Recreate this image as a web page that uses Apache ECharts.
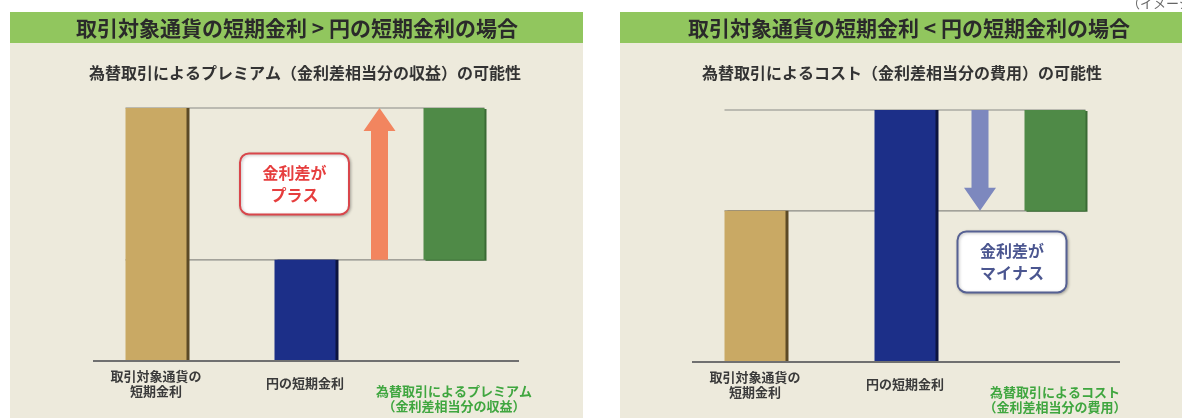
<!DOCTYPE html>
<html><head><meta charset="utf-8">
<script src="https://cdn.jsdelivr.net/npm/echarts@6/dist/echarts.min.js"></script>
<style>html,body{margin:0;padding:0;background:#fff;} #c{width:1182px;height:418px;}</style>
</head><body><div id="c"></div>
<script>
// ---------- data ----------
const panelTitles = ['取引対象通貨の短期金利 > 円の短期金利の場合', '取引対象通貨の短期金利 < 円の短期金利の場合'];
const panelSubtitles = ['為替取引によるプレミアム（金利差相当分の収益）の可能性', '為替取引によるコスト（金利差相当分の費用）の可能性'];
const leftCategories = ['取引対象通貨の\n短期金利', '円の短期金利', '為替取引によるプレミアム\n（金利差相当分の収益）'];
const rightCategories = ['取引対象通貨の\n短期金利', '円の短期金利', '為替取引によるコスト\n（金利差相当分の費用）'];
const leftRates = [5, 2];   // [取引対象通貨の短期金利, 円の短期金利]
const rightRates = [3, 5];
const calloutTexts = ['金利差が\nプラス', '金利差が\nマイナス'];
const imageNote = '（イメージ図）';

// ---------- styles / layout ----------
const FONT = '"Noto Sans CJK JP", "Noto Sans", sans-serif';
const BAR_W = 61;
const C_TAN = '#C9A964', C_BLUE = '#1C2F88', C_GREEN = '#4F8A47';
const C_BG = '#EDEADC', C_HEAD = '#91C65E';
const panels = [
  { x: 10, w: 573, grid: { left: 81.5, width: 447, top: 108, bottom: 57 },
    cats: leftCategories, rates: leftRates, callout: calloutTexts[0],
    arrowColor: '#F2855F', boxStroke: '#D9464B', boxText: '#E63E3E', calloutDx: -85, calloutDy: 0 },
  { x: 620, w: 562, grid: { left: 680, width: 450, top: 110, bottom: 56 },
    cats: rightCategories, rates: rightRates, callout: calloutTexts[1],
    arrowColor: '#7D88BE', boxStroke: '#566193', boxText: '#4B5690', calloutDx: 32, calloutDy: 101.5 }
];

const chart = echarts.init(document.getElementById('c'), null, { renderer: 'canvas' });

const graphic = [];
panels.forEach((p, i) => {
  graphic.push({ type: 'rect', z: -10, shape: { x: p.x, y: 12, width: p.w, height: 406 }, style: { fill: C_BG } });
  graphic.push({ type: 'rect', z: -9, shape: { x: p.x, y: 12, width: p.w, height: 31 }, style: { fill: C_HEAD } });
  graphic.push({ type: 'text', z: -8, x: (i === 0 ? 297 : 909), y: 28,
    style: { text: panelTitles[i], fill: '#2a2a2a', font: 'bold 21px ' + FONT, align: 'center', verticalAlign: 'middle' } });
  graphic.push({ type: 'text', z: -8, x: (i === 0 ? 305 : 902), y: 73,
    style: { text: panelSubtitles[i], fill: '#333', font: 'bold 16px ' + FONT, align: 'center', verticalAlign: 'middle' } });
});
graphic.push({ type: 'text', z: -8, x: 1127, y: 3,
  style: { text: imageNote, fill: '#666', font: '13px ' + FONT, align: 'left', verticalAlign: 'middle' } });

const grids = [], xAxes = [], yAxes = [], series = [];
panels.forEach((p, i) => {
  const hi = Math.max(...p.rates), lo = Math.min(...p.rates);
  grids.push(Object.assign({ containLabel: false }, p.grid));
  xAxes.push({
    type: 'category', gridIndex: i,
    data: p.cats.map((c, k) => k === 2 ? { value: c, textStyle: { color: '#3FA63F' } } : c),
    axisLine: { show: false }, axisTick: { show: false }, splitLine: { show: false },
    axisLabel: { interval: 0, margin: 22.5, verticalAlign: 'middle', lineHeight: 15,
      fontSize: 13, fontWeight: 'bold', color: '#3a3a3a', fontFamily: FONT }
  });
  yAxes.push({ type: 'value', gridIndex: i, min: 0, max: 5, show: false, splitLine: { show: false } });

  // connector lines (beneath bars)
  series.push({
    type: 'custom', xAxisIndex: i, yAxisIndex: i, z: 1, silent: true, data: [0],
    renderItem: function (params, api) {
      const x0 = api.coord([0, 0])[0], x2 = api.coord([2, 0])[0];
      const yHi = api.coord([0, hi])[1], yLo = api.coord([0, lo])[1];
      const hw = BAR_W / 2;
      return { type: 'group', children: [
        { type: 'line', shape: { x1: x0 - hw, y1: yHi, x2: x2 + hw, y2: yHi }, style: { stroke: '#8a8a85', lineWidth: 1.2 } },
        { type: 'line', shape: { x1: x0 - hw, y1: yLo, x2: x2 + hw, y2: yLo }, style: { stroke: '#8a8a85', lineWidth: 1.2 } }
      ] };
    }
  });
  // floating base for the difference bar
  series.push({
    type: 'bar', xAxisIndex: i, yAxisIndex: i, stack: 's' + i, barWidth: BAR_W, silent: true, z: 2,
    itemStyle: { color: 'rgba(0,0,0,0)' },
    data: [0, 0, lo]
  });
  series.push({
    type: 'bar', xAxisIndex: i, yAxisIndex: i, stack: 's' + i, barWidth: BAR_W, silent: true, z: 3,
    data: [
      { value: p.rates[0], itemStyle: { color: C_TAN, shadowColor: '#5C4A26', shadowOffsetX: 3, shadowBlur: 0 } },
      { value: p.rates[1], itemStyle: { color: C_BLUE, shadowColor: '#0C1440', shadowOffsetX: 3, shadowBlur: 0 } },
      { value: hi - lo, itemStyle: { color: C_GREEN, shadowColor: '#3A6A34', shadowOffsetX: 2, shadowOffsetY: 1, shadowBlur: 0 } }
    ]
  });
  // arrow, baseline, callout
  series.push({
    type: 'custom', xAxisIndex: i, yAxisIndex: i, z: 5, silent: true, data: [0],
    renderItem: function (params, api) {
      const x0 = api.coord([0, 0])[0], x1 = api.coord([1, 0])[0], x2 = api.coord([2, 0])[0];
      const yBase = api.coord([0, 0])[1];
      const yHi = api.coord([0, hi])[1], yLo = api.coord([0, lo])[1];
      const ax = (x1 + x2) / 2;
      const up = p.rates[0] > p.rates[1];
      const tipY = up ? yHi : yLo, tailY = up ? yLo : yHi;
      const dir = up ? 1 : -1;
      const headL = 23, headW = 16, shaftW = 8.5;
      const pts = [
        [ax - shaftW, tailY], [ax - shaftW, tipY + dir * headL], [ax - headW, tipY + dir * headL],
        [ax, tipY], [ax + headW, tipY + dir * headL], [ax + shaftW, tipY + dir * headL], [ax + shaftW, tailY]
      ];
      const cx = ax + p.calloutDx, cy = (yHi + yLo) / 2 + p.calloutDy;
      return { type: 'group', children: [
        { type: 'line', shape: { x1: x0 - 63, y1: yBase, x2: x2 + 65, y2: yBase }, style: { stroke: '#707070', lineWidth: 2 } },
        { type: 'polygon', shape: { points: pts }, style: { fill: p.arrowColor } },
        { type: 'rect', shape: { x: cx - 54.5, y: cy - 30.5, width: 109, height: 61, r: 9 },
          style: { fill: '#ffffff', stroke: p.boxStroke, lineWidth: 2, shadowColor: 'rgba(0,0,0,0.25)', shadowBlur: 3, shadowOffsetX: 1, shadowOffsetY: 1 } },
        { type: 'text', style: { text: p.callout, x: cx, y: cy, align: 'center', verticalAlign: 'middle',
          fill: p.boxText, fontSize: 16, fontWeight: 'bold', fontFamily: FONT, lineHeight: 22 } }
      ] };
    }
  });
});

chart.setOption({
  backgroundColor: '#ffffff',
  animation: false,
  graphic: graphic,
  grid: grids, xAxis: xAxes, yAxis: yAxes, series: series
});
</script>
</body></html>
